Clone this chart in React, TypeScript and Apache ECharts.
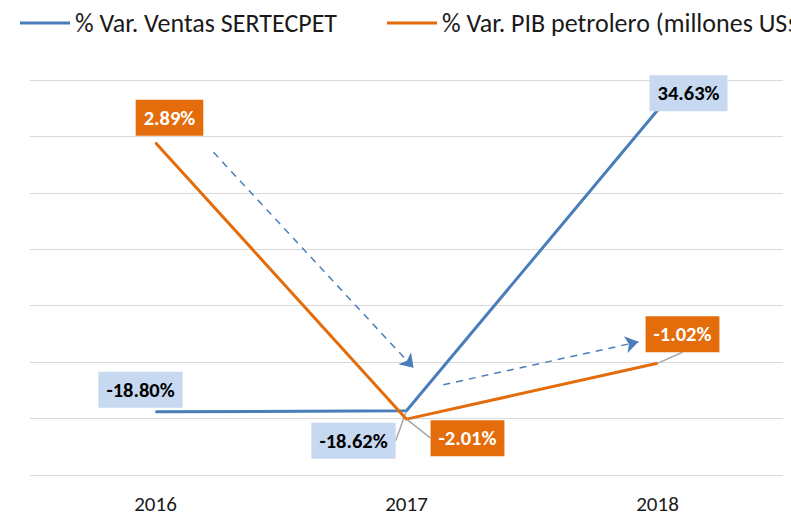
import React, { useEffect, useRef } from "react";
import * as echarts from "echarts";

const categories = ["2016", "2017", "2018"];
const ventasName = "% Var. Ventas SERTECPET";
const pibName = "% Var. PIB petrolero (millones US$)";
const ventas = [-18.8, -18.62, 34.63];
const pib = [2.89, -2.01, -1.02];

// annotation arrows (x in category index units, y in left-axis units)
const arrowStarts = [
  [0.231, 27.2],
  [1.147, -14.0],
];
const arrowEnds = [
  [1.028, -11.0],
  [1.924, -6.4],
];

const ventasLabelOffsets = [
  [-15, -22],
  [-53, 30],
  [31, -17],
];
const pibLabelOffsets = [
  [14, -25],
  [61, 19],
  [25, -29],
];
const ventasLabelLine = [false, true, false];
const pibLabelLine = [false, true, true];

const FONT = "Carlito, Lato, 'Noto Sans', sans-serif";
const BLUE = "#4A7EBB";
const ORANGE = "#E46C0A";

export default function App() {
  const ref = useRef<HTMLDivElement>(null);
  useEffect(() => {
    if (!ref.current) return;
    const chart = echarts.init(ref.current, null, { renderer: "svg" });
    const labelBase = {
      show: true,
      position: "inside",
      fontFamily: FONT,
      fontWeight: "bold",
      fontSize: 20.5,
      lineHeight: 22,
      padding: [7, 8],
    };
    const legendText = { fontSize: 26, color: "#1a1a1a", fontFamily: FONT };
    chart.setOption({
      animation: false,
      textStyle: { fontFamily: FONT },
      legend: [
        {
          data: [ventasName],
          left: 15,
          top: 5,
          icon: "rect",
          itemWidth: 50,
          itemHeight: 3,
          textStyle: legendText,
        },
        {
          data: [pibName],
          left: 382,
          top: 5,
          icon: "rect",
          itemWidth: 50,
          itemHeight: 3,
          textStyle: legendText,
        },
      ],
      grid: { left: 30, right: 8, top: 80, bottom: 41, containLabel: false },
      xAxis: [
        {
          type: "category",
          data: categories,
          boundaryGap: true,
          axisLine: { show: false },
          axisTick: { show: false },
          axisLabel: { fontSize: 21, color: "#1a1a1a", margin: 18, fontFamily: FONT },
        },
        { type: "value", min: -0.5, max: 2.5, show: false, splitLine: { show: false } },
      ],
      yAxis: [
        {
          type: "value",
          min: -30,
          max: 40,
          interval: 10,
          axisLabel: { show: false },
          axisLine: { show: false },
          axisTick: { show: false },
          splitLine: { show: true, lineStyle: { color: "#D9D9D9", width: 1 } },
        },
        {
          type: "value",
          min: -3,
          max: 4,
          interval: 1,
          axisLabel: { show: false },
          axisLine: { show: false },
          axisTick: { show: false },
          splitLine: { show: false },
        },
      ],
      series: [
        {
          name: ventasName,
          type: "line",
          yAxisIndex: 0,
          data: ventas.map((v, i) => ({ value: v, labelLine: { show: ventasLabelLine[i] } })),
          symbol: "circle",
          symbolSize: 1,
          showSymbol: true,
          lineStyle: { color: BLUE, width: 3 },
          itemStyle: { color: BLUE },
          label: {
            ...labelBase,
            color: "#000",
            backgroundColor: "#C6D9F1",
            formatter: (p: any) => p.value.toFixed(2) + "%",
          },
          labelLine: { show: true, lineStyle: { color: "#A6A6A6", width: 1.5 } },
          labelLayout: (p: any) => ({
            dx: ventasLabelOffsets[p.dataIndex][0],
            dy: ventasLabelOffsets[p.dataIndex][1],
          }),
          z: 3,
        },
        {
          name: pibName,
          type: "line",
          yAxisIndex: 1,
          data: pib.map((v, i) => ({ value: v, labelLine: { show: pibLabelLine[i] } })),
          symbol: "circle",
          symbolSize: 1,
          showSymbol: true,
          lineStyle: { color: ORANGE, width: 3 },
          itemStyle: { color: ORANGE },
          label: {
            ...labelBase,
            color: "#fff",
            backgroundColor: ORANGE,
            formatter: (p: any) => p.value.toFixed(2) + "%",
          },
          labelLine: { show: true, lineStyle: { color: "#A6A6A6", width: 1.5 } },
          labelLayout: (p: any) => ({
            dx: pibLabelOffsets[p.dataIndex][0],
            dy: pibLabelOffsets[p.dataIndex][1],
          }),
          z: 4,
        },
        {
          type: "lines",
          coordinateSystem: "cartesian2d",
          xAxisIndex: 1,
          yAxisIndex: 0,
          silent: true,
          symbol: ["none", "arrow"],
          symbolSize: 13,
          lineStyle: { color: BLUE, width: 1.5, type: [7, 6], opacity: 1 },
          data: arrowStarts.map((s, i) => ({ coords: [s, arrowEnds[i]] })),
          z: 2,
        },
      ],
    });
    return () => chart.dispose();
  }, []);
  return (
    <div
      ref={ref}
      style={{ position: "fixed", left: 0, top: 0, width: 791, height: 516, background: "#fff" }}
    />
  );
}
